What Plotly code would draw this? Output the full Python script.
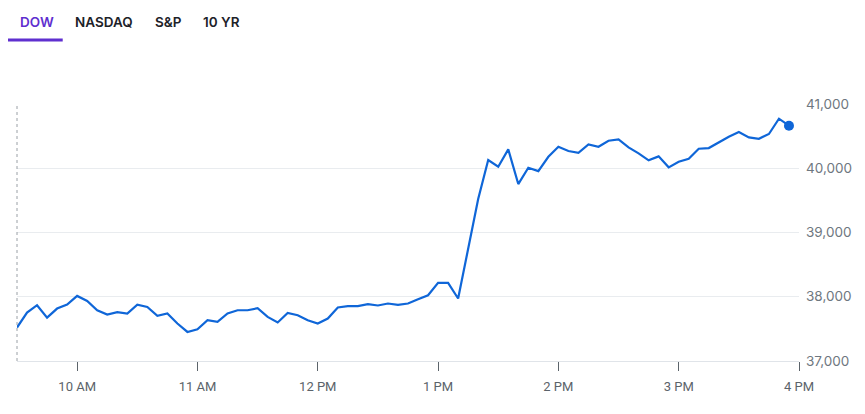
import pandas as pd
import plotly.graph_objects as go

# ---- data (Dow Jones intraday, 5-minute intervals from 9:30) ----
session_date = "2025-04-09"
dow_values = [
    37521, 37754, 37868, 37676, 37816, 37879, 38013, 37935, 37790, 37723,
    37759, 37739, 37876, 37842, 37702, 37739, 37583, 37452, 37494, 37635,
    37608, 37739, 37790, 37790, 37822, 37686, 37599, 37749, 37713, 37635,
    37583, 37661, 37833, 37853, 37853, 37884, 37864, 37895, 37873, 37895,
    37962, 38024, 38216, 38216, 37973, 38725, 39520, 40128, 40023, 40294,
    39754, 40008, 39956, 40179, 40335, 40268, 40241, 40372, 40335, 40428,
    40450, 40325, 40232, 40123, 40185, 40014, 40101, 40148, 40304, 40314,
    40403, 40491, 40564, 40481, 40459, 40533, 40771, 40662,
]
times = pd.date_range(f"{session_date} 09:30", periods=len(dow_values), freq="5min")

tick_times = ["10:00", "11:00", "12:00", "13:00", "14:00", "15:00", "16:00"]
tick_labels = ["10 AM", "11 AM", "12 PM", "1 PM", "2 PM", "3 PM", "4 PM"]
y_ticks = [37000, 38000, 39000, 40000, 41000]
tabs = ["DOW", "NASDAQ", "S&P", "10 YR"]

LINE = "#0f66d8"
PURPLE = "#5f2fcf"

fig = go.Figure()
fig.add_trace(go.Scatter(
    x=times, y=dow_values, mode="lines",
    line=dict(color=LINE, width=2.2), hoverinfo="skip", showlegend=False,
))
fig.add_trace(go.Scatter(
    x=[times[-1]], y=[dow_values[-1]], mode="markers",
    marker=dict(color=LINE, size=10), hoverinfo="skip", showlegend=False,
))

OFF = 8  # page body margin
W, H = 865 - OFF, 414 - OFF
L, R, T, B = 17.3, 799.0, 104.0, 360.7  # page coordinates of plot area
pw, ph = R - L, B - T

def px(x):
    return (x - L) / pw

def py(y):
    return (B - y) / ph

# tabs
tab_centers = [37, 104, 168.5, 221.5]
for name, cx in zip(tabs, tab_centers):
    fig.add_annotation(
        x=px(cx), y=py(22), xref="paper", yref="paper", text=name,
        showarrow=False, xanchor="center", yanchor="middle",
        font=dict(family="Inter, Roboto, sans-serif", size=13.5, weight=600,
                  color=PURPLE if name == "DOW" else "#1d2228"),
    )
fig.add_shape(type="rect", xref="paper", yref="paper",
              x0=px(8), x1=px(63), y0=py(41.5), y1=py(38.5),
              fillcolor=PURPLE, line=dict(width=0))
# dotted left border
fig.add_shape(type="line", xref="paper", yref="paper", x0=0, x1=0, y0=0, y1=1,
              line=dict(color="#9aa0a6", width=1, dash="dot"))

fig.update_layout(
    width=W, height=H,
    margin=dict(l=L - OFF, r=W - (R - OFF), t=T - OFF, b=H - (B - OFF)),
    paper_bgcolor="white", plot_bgcolor="white",
    xaxis=dict(
        range=[f"{session_date} 09:30", f"{session_date} 16:00"],
        tickvals=[f"{session_date} {t}" for t in tick_times],
        ticktext=tick_labels,
        ticks="outside", ticklen=9, tickwidth=1, tickcolor="#5b636a",
        showline=True, linecolor="#e0e4e9", linewidth=1,
        showgrid=False, zeroline=False,
        ticklabelstandoff=4,
        tickfont=dict(family="Roboto, sans-serif", size=13, color="#5b636a"),
        fixedrange=True,
    ),
    yaxis=dict(
        side="right", range=[37000, 41000], tickvals=y_ticks,
        tickformat=",d",
        showgrid=True, gridcolor="#e9ecef", gridwidth=1,
        zeroline=False, showline=False, ticks="",
        ticklabelstandoff=6,
        tickfont=dict(family="Inter, Roboto, sans-serif", size=13.5, color="#6e7780"),
        fixedrange=True,
    ),
)

fig.write_html("out.html", config={"displayModeBar": False})
